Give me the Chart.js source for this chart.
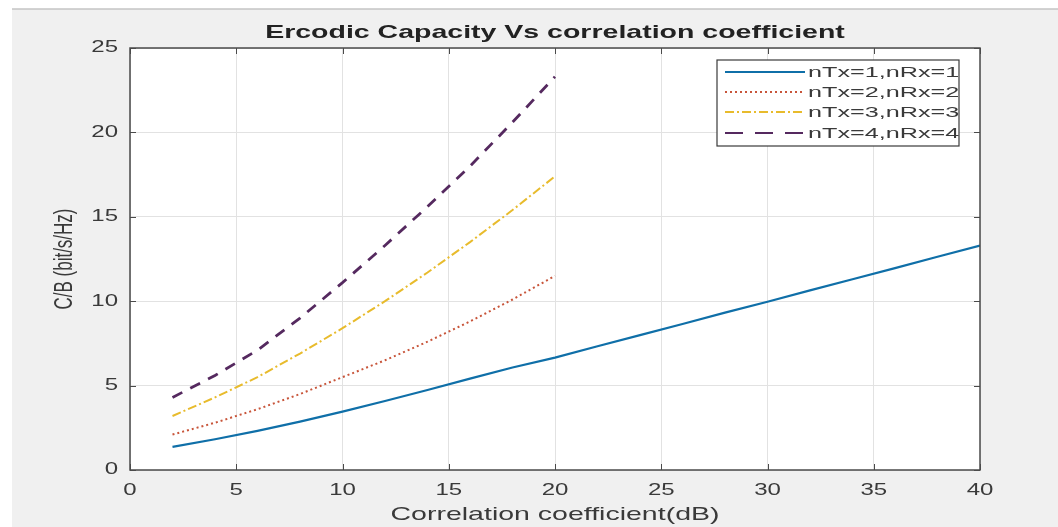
<!DOCTYPE html>
<html>
<head>
<meta charset="utf-8">
<script src="https://cdn.jsdelivr.net/npm/chart.js@4/dist/chart.umd.min.js"></script>
<style>
  html, body { margin: 0; padding: 0; background: #ffffff; }
  canvas { display: block; }
</style>
</head>
<body>
<canvas id="capacityChart" width="1058" height="527"></canvas>
<script>
// SNR grid (dB) for each curve
const snrLong = [2, 4, 6, 8, 10, 12, 14, 16, 18, 20, 22, 24, 26, 28, 30, 32, 34, 36, 38, 40];
const snrShort = [2, 4, 6, 8, 10, 12, 14, 16, 18, 20];

// Ergodic capacity, bit/s/Hz
const cap1x1 = [1.37, 1.82, 2.32, 2.87, 3.46, 4.09, 4.74, 5.41, 6.07, 6.66, 7.33, 7.99, 8.65, 9.32, 9.97, 10.64, 11.30, 11.96, 12.63, 13.29];
const cap2x2 = [2.1, 2.8, 3.6, 4.5, 5.5, 6.5, 7.6, 8.8, 10.1, 11.5];
const cap3x3 = [3.2, 4.3, 5.5, 6.9, 8.4, 10.0, 11.7, 13.5, 15.4, 17.4];
const cap4x4 = [4.3, 5.6, 7.1, 9.0, 11.1, 13.3, 15.6, 18.0, 20.6, 23.3];

const seriesLabels = ['nTx=1,nRx=1', 'nTx=2,nRx=2', 'nTx=3,nRx=3', 'nTx=4,nRx=4'];

// Axis ticks
const xTicks = [0, 5, 10, 15, 20, 25, 30, 35, 40];
const yTicks = [0, 5, 10, 15, 20, 25];

const toPoints = (xs, ys) => xs.map((x, i) => ({ x: x, y: ys[i] }));

// --- Helper: draw text with horizontal stretch (wide figure export) ---
function wideText(ctx, text, x, y, font, sx, align) {
    ctx.save();
    ctx.font = font;
    ctx.textAlign = align || 'center';
    ctx.textBaseline = 'middle';
    ctx.translate(x, y);
    ctx.scale(sx, 1);
    ctx.fillText(text, 0, 0);
    ctx.restore();
}

// --- Figure background, gray frame, white axes ---
const figureBackground = {
    id: 'figureBackground',
    beforeDraw(chart) {
        const ctx = chart.ctx;
        const a = chart.chartArea;
        ctx.save();
        ctx.fillStyle = '#ffffff';
        ctx.fillRect(0, 0, chart.width, chart.height);
        ctx.fillStyle = '#f0f0f0';
        ctx.fillRect(12, 9, chart.width - 12, chart.height - 9);
        ctx.strokeStyle = '#c4c4c4';
        ctx.lineWidth = 1.5;
        ctx.beginPath();
        ctx.moveTo(12, 9);
        ctx.lineTo(chart.width, 9);
        ctx.stroke();
        ctx.fillStyle = '#ffffff';
        ctx.fillRect(a.left, a.top, a.right - a.left, a.bottom - a.top);
        ctx.restore();
    }
};

// --- Axes box, inward ticks, tick labels, titles and legend ---
const figureDecor = {
    id: 'figureDecor',
    afterDraw(chart) {
        const ctx = chart.ctx;
        const a = chart.chartArea;
        const xs = chart.scales.x;
        const ys = chart.scales.y;
        const tickLen = 6;

        ctx.save();
        ctx.strokeStyle = '#4a4a4a';
        ctx.lineWidth = 1.5;
        ctx.strokeRect(a.left, a.top, a.right - a.left, a.bottom - a.top);

        ctx.lineWidth = 1;
        ctx.beginPath();
        xTicks.forEach(v => {
            const px = Math.round(xs.getPixelForValue(v)) + 0.5;
            ctx.moveTo(px, a.bottom); ctx.lineTo(px, a.bottom - tickLen);
            ctx.moveTo(px, a.top); ctx.lineTo(px, a.top + tickLen);
        });
        yTicks.forEach(v => {
            const py = Math.round(ys.getPixelForValue(v)) + 0.5;
            ctx.moveTo(a.left, py); ctx.lineTo(a.left + tickLen, py);
            ctx.moveTo(a.right, py); ctx.lineTo(a.right - tickLen, py);
        });
        ctx.stroke();

        // tick labels
        ctx.fillStyle = '#3a3a3a';
        xTicks.forEach(v => {
            wideText(ctx, String(v), xs.getPixelForValue(v), a.bottom + 21, '16px "Liberation Sans", Arial, sans-serif', 1.5, 'center');
        });
        yTicks.forEach(v => {
            wideText(ctx, String(v), a.left - 12, ys.getPixelForValue(v), '16px "Liberation Sans", Arial, sans-serif', 1.5, 'right');
        });

        // titles
        ctx.fillStyle = '#222222';
        wideText(ctx, 'Ercodic Capacity Vs correlation coefficient', (a.left + a.right) / 2, 33,
            'bold 19px "Liberation Sans", Arial, sans-serif', 1.5, 'center');
        ctx.fillStyle = '#3a3a3a';
        wideText(ctx, 'Correlation coefficient(dB)', (a.left + a.right) / 2, a.bottom + 45,
            '19px "Liberation Sans", Arial, sans-serif', 1.5, 'center');

        ctx.save();
        ctx.translate(65, (a.top + a.bottom) / 2);
        ctx.rotate(-Math.PI / 2);
        ctx.scale(1, 1.5);
        ctx.font = '17px "Liberation Sans", Arial, sans-serif';
        ctx.textAlign = 'center';
        ctx.textBaseline = 'middle';
        ctx.fillText('C/B (bit/s/Hz)', 0, 0);
        ctx.restore();

        // legend
        const box = { left: 717, top: 60, right: 959, bottom: 146 };
        ctx.fillStyle = '#ffffff';
        ctx.fillRect(box.left, box.top, box.right - box.left, box.bottom - box.top);
        ctx.strokeStyle = '#3a3a3a';
        ctx.lineWidth = 1.2;
        ctx.strokeRect(box.left, box.top, box.right - box.left, box.bottom - box.top);
        const rowY = [72, 92, 112, 133];
        chart.data.datasets.forEach((ds, i) => {
            ctx.save();
            ctx.strokeStyle = ds.borderColor;
            ctx.lineWidth = Math.min(ds.borderWidth, 2);
            ctx.setLineDash(ds.legendDash || ds.borderDash || []);
            ctx.beginPath();
            ctx.moveTo(725, rowY[i]);
            ctx.lineTo(805, rowY[i]);
            ctx.stroke();
            ctx.restore();
            ctx.fillStyle = '#3a3a3a';
            wideText(ctx, ds.label, 808, rowY[i] + 1, '14px "Liberation Sans", Arial, sans-serif', 1.8, 'left');
        });
        ctx.restore();
    }
};

const config = {
    type: 'line',
    data: {
        datasets: [
            {
                label: seriesLabels[0], data: toPoints(snrLong, cap1x1),
                borderColor: '#0f6fa8', borderWidth: 2.2, borderDash: []
            },
            {
                label: seriesLabels[1], data: toPoints(snrShort, cap2x2),
                borderColor: '#c8553a', borderWidth: 2, borderDash: [2, 3]
            },
            {
                label: seriesLabels[2], data: toPoints(snrShort, cap3x3),
                borderColor: '#e8bb2c', borderWidth: 2, borderDash: [9, 3, 2, 3]
            },
            {
                label: seriesLabels[3], data: toPoints(snrShort, cap4x4),
                borderColor: '#55295f', borderWidth: 2.8, borderDash: [11, 9], legendDash: [18, 12]
            }
        ]
    },
    options: {
        responsive: false,
        animation: false,
        layout: { padding: { left: 130, right: 78, top: 48, bottom: 57 } },
        elements: { point: { radius: 0 }, line: { tension: 0, fill: false } },
        scales: {
            x: {
                type: 'linear', min: 0, max: 40,
                afterBuildTicks: scale => { scale.ticks = xTicks.map(v => ({ value: v })); },
                ticks: { display: false },
                grid: { color: '#e2e2e2', lineWidth: 1, drawTicks: false },
                border: { display: false }
            },
            y: {
                type: 'linear', min: 0, max: 25,
                afterBuildTicks: scale => { scale.ticks = yTicks.map(v => ({ value: v })); },
                ticks: { display: false },
                grid: { color: '#e2e2e2', lineWidth: 1, drawTicks: false },
                border: { display: false }
            }
        },
        plugins: {
            legend: { display: false },
            title: { display: false },
            tooltip: { enabled: false }
        }
    },
    plugins: [figureBackground, figureDecor]
};

new Chart(document.getElementById('capacityChart'), config);
</script>
</body>
</html>
